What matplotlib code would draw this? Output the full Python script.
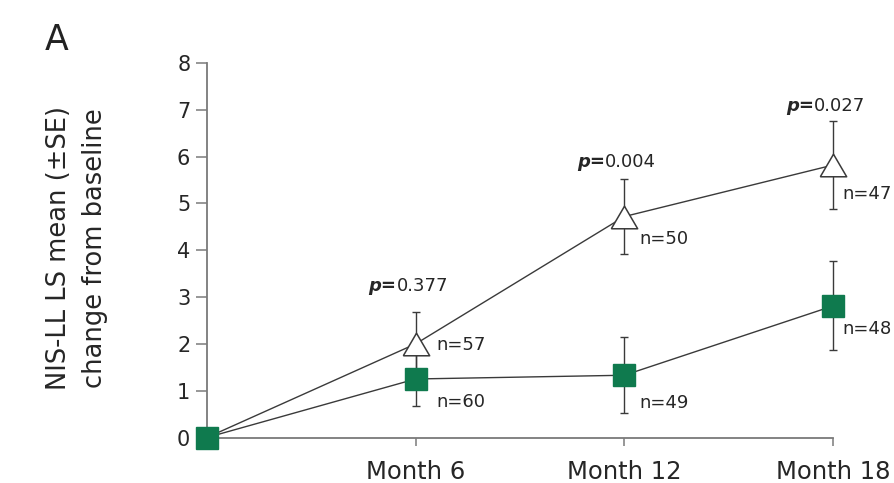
import matplotlib
matplotlib.use("Agg")
import matplotlib.pyplot as plt

# ---- data ----
months = [0, 6, 12, 18]
tick_months = [6, 12, 18]
tick_labels = ["Month 6", "Month 12", "Month 18"]

placebo_mean = [0.0, 2.0, 4.72, 5.82]
placebo_se = [0.0, 0.68, 0.81, 0.94]
treat_mean = [0.0, 1.25, 1.33, 2.81]
treat_se = [0.0, 0.58, 0.81, 0.95]

p_labels = ["0.377", "0.004", "0.027"]
placebo_n = ["n=57", "n=50", "n=47"]
treat_n = ["n=60", "n=49", "n=48"]

yticks = [0, 1, 2, 3, 4, 5, 6, 7, 8]

# ---- style ----
W, H, DPI = 895, 483, 100
green = "#0f7a4e"
line_col = "#3a3a3a"
axis_col = "#7a7a7a"
text_col = "#262626"
px = 72.0 / DPI  # points per pixel

fig = plt.figure(figsize=(W / DPI, H / DPI), dpi=DPI)
fig.patch.set_facecolor("white")
ax = fig.add_axes([207 / W, 1 - 437.5 / H, (833 - 207) / W, (437.5 - 63) / H])

ax.set_xlim(0, 18)
ax.set_ylim(0, 8)

for s in ["top", "right"]:
    ax.spines[s].set_visible(False)
for s in ["left", "bottom"]:
    ax.spines[s].set_color(axis_col)
    ax.spines[s].set_linewidth(1.3)

ax.set_yticks(yticks)
ax.set_yticklabels([str(v) for v in yticks])
ax.set_xticks(tick_months)
ax.set_xticklabels(tick_labels)
ax.tick_params(axis="y", length=8, width=1.1, color=axis_col, pad=4,
               labelsize=15, labelcolor=text_col)
ax.tick_params(axis="x", length=6, width=1.1, color=axis_col, pad=10,
               labelsize=17.5, labelcolor=text_col)

# error bars
ax.errorbar(months[1:], placebo_mean[1:], yerr=placebo_se[1:], fmt="none",
            ecolor=line_col, elinewidth=1.0, capsize=3.0, capthick=1.0,
            zorder=3, clip_on=False)
ax.errorbar(months[1:], treat_mean[1:], yerr=treat_se[1:], fmt="none",
            ecolor=line_col, elinewidth=1.0, capsize=3.0, capthick=1.0,
            zorder=3, clip_on=False)

# wide triangle marker
tri = [(-1.17, -1.0), (1.17, -1.0), (0.0, 1.0), (-1.17, -1.0)]

# lines + markers (baseline point shown only as the square)
ax.plot(months, placebo_mean, color=line_col, lw=1.0, marker=tri, ms=19,
        mfc="white", mec=line_col, mew=1.1, zorder=4, clip_on=False,
        markevery=[1, 2, 3])
ax.plot(months, treat_mean, color=line_col, lw=1.0, marker="s", ms=16.5,
        mfc=green, mec=green, mew=1.0, zorder=5, clip_on=False)

# p-value labels
p_off_y = [21, 12, 10]  # pixels above error-bar top (baseline)
for i, m in enumerate(tick_months):
    top = placebo_mean[i + 1] + placebo_se[i + 1]
    t1 = ax.annotate("p=", xy=(m, top), xytext=(-47 * px, p_off_y[i] * px),
                     textcoords="offset points", ha="left", va="baseline",
                     fontsize=13, fontweight="bold", fontstyle="italic",
                     color=text_col, zorder=6)
    ax.annotate(p_labels[i], xy=(1, 0), xycoords=t1, ha="left", va="bottom",
                fontsize=13, color=text_col, zorder=6)

# n labels (offsets in pixels: dx, dy of text centre relative to point)
pl_off = [(21, -1), (15, -22), (9, -29)]
tr_off = [(21, -23), (15, -28), (9, -23)]
for i, m in enumerate(tick_months):
    dx, dy = pl_off[i]
    ax.annotate(placebo_n[i], xy=(m, placebo_mean[i + 1]),
                xytext=(dx * px, dy * px), textcoords="offset points",
                ha="left", va="center", fontsize=13, color=text_col,
                annotation_clip=False)
    dx, dy = tr_off[i]
    ax.annotate(treat_n[i], xy=(m, treat_mean[i + 1]),
                xytext=(dx * px, dy * px), textcoords="offset points",
                ha="left", va="center", fontsize=13, color=text_col,
                annotation_clip=False)

# y label
fig.text(77 / W, 1 - 248 / H, "NIS-LL LS mean (±SE)\nchange from baseline",
         rotation=90, ha="center", va="center", multialignment="center",
         fontsize=18.5, linespacing=1.45, color=text_col)

# panel letter
fig.text(45 / W, 1 - 23 / H, "A", ha="left", va="top", fontsize=25,
         color="#222222")

fig.savefig("out.png", dpi=DPI)
